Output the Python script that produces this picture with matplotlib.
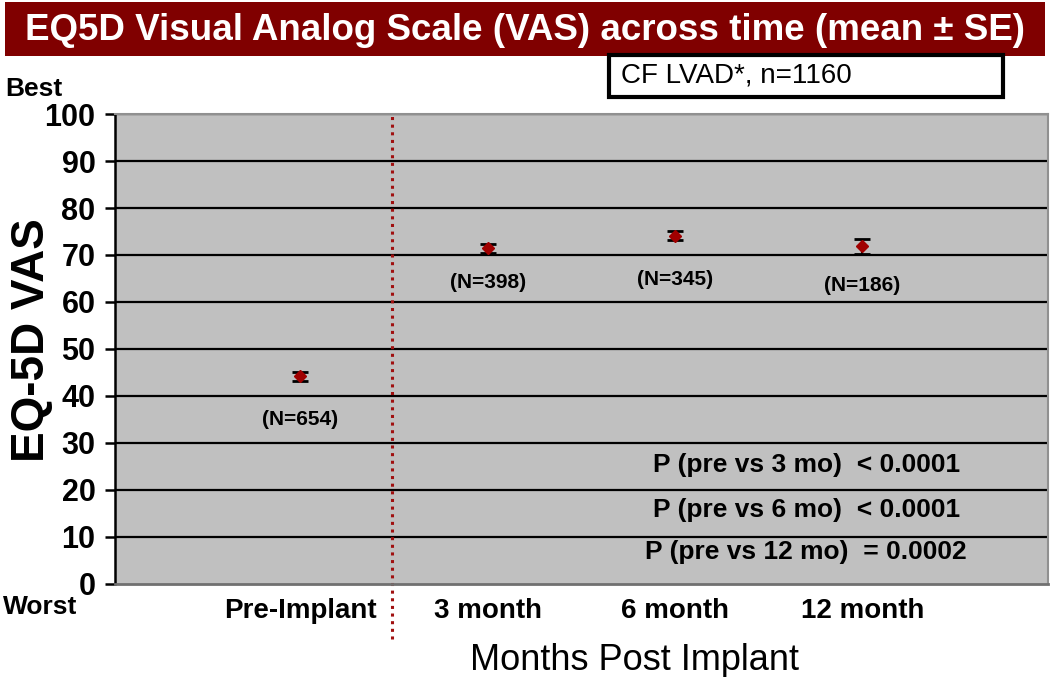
import matplotlib.pyplot as plt
from matplotlib.patches import Rectangle

# data
groups = ['Pre-Implant', '3 month', '6 month', '12 month']
vas_mean = [44.2, 71.4, 74.1, 71.9]
vas_se = [1.0, 1.0, 1.0, 1.6]
n_labels = ['(N=654)', '(N=398)', '(N=345)', '(N=186)']
p_texts = ['P (pre vs 3 mo)  < 0.0001',
           'P (pre vs 6 mo)  < 0.0001',
           'P (pre vs 12 mo)  = 0.0002']
p_y = [25.4, 15.8, 6.8]
yticks = list(range(0, 101, 10))

plt.rcParams['font.family'] = ['Liberation Sans', 'DejaVu Sans']

fig = plt.figure(figsize=(10.5, 6.77), dpi=100)
ax = fig.add_axes([0.1095, 0.1374, 0.8885, 0.6942])
ax.set_facecolor('#c0c0c0')

x = [1, 2, 3, 4]
ax.set_xlim(0.01, 4.99)
ax.set_ylim(0, 100)

for t in yticks[1:]:
    ax.axhline(t, color='black', lw=1.6, zorder=1)

ax.errorbar(x, vas_mean, yerr=vas_se, fmt='D', color='black', ecolor='black',
            mfc='#a00000', mec='#a00000', ms=6, capsize=6, capthick=2,
            elinewidth=1.5, zorder=3)

# N labels below points
n_off = [-9.1, -7.3, -9.3, -8.3]
for xi, m, lab, off in zip(x, vas_mean, n_labels, n_off):
    ax.text(xi, m + off, lab, ha='center', va='center', fontsize=15,
            fontweight='bold', zorder=4)

# divider between pre and post implant
ax.axvline(1.49, ymin=-0.118, ymax=1, color='#a01010', lw=2.2,
           linestyle=(0, (1, 1.5)), clip_on=False, zorder=2)

for txt, yy in zip(p_texts, p_y):
    ax.text(3.70, yy, txt, ha='center', va='center', fontsize=19,
            fontweight='bold', zorder=4)

ax.set_yticks(yticks)
ax.set_yticklabels([str(t) for t in yticks], fontsize=22, fontweight='bold')
ax.tick_params(axis='y', direction='out', length=7, width=1.8, pad=7)
ax.set_xticks(x)
ax.set_xticklabels(groups, fontsize=20, fontweight='bold')
ax.tick_params(axis='x', length=0, pad=10)

for s in ['top', 'right']:
    ax.spines[s].set_color('#909090')
    ax.spines[s].set_linewidth(1.5)
ax.spines['bottom'].set_color('#707070')
ax.spines['bottom'].set_linewidth(2)
ax.spines['left'].set_color('black')
ax.spines['left'].set_linewidth(1.8)

ax.set_ylabel('EQ-5D VAS', fontsize=33, fontweight='bold', va='center')
ax.yaxis.set_label_coords(-0.089, 0.519)
ax.set_xlabel('Months Post Implant', fontsize=26, va='center')
ax.xaxis.set_label_coords(0.557, -0.162)

fig.text(0.005, 0.868, 'Best', fontsize=19, fontweight='bold', va='center')
fig.text(0.003, 0.103, 'Worst', fontsize=19, fontweight='bold', va='center')

# title banner
fig.patches.append(Rectangle((0.005, 0.918), 0.99, 0.079, transform=fig.transFigure,
                             facecolor='#800000', edgecolor='none'))
fig.text(0.5, 0.955, 'EQ5D Visual Analog Scale (VAS) across time (mean \u00b1 SE)',
         color='white', fontsize=26.5, fontweight='bold', ha='center', va='center')

# legend-like box
fig.patches.append(Rectangle((0.58, 0.857), 0.375, 0.062, transform=fig.transFigure,
                             facecolor='white', edgecolor='black', lw=3))
fig.text(0.591, 0.888, 'CF LVAD*, n=1160', fontsize=20, va='center')

fig.savefig('out.png', dpi=100)
